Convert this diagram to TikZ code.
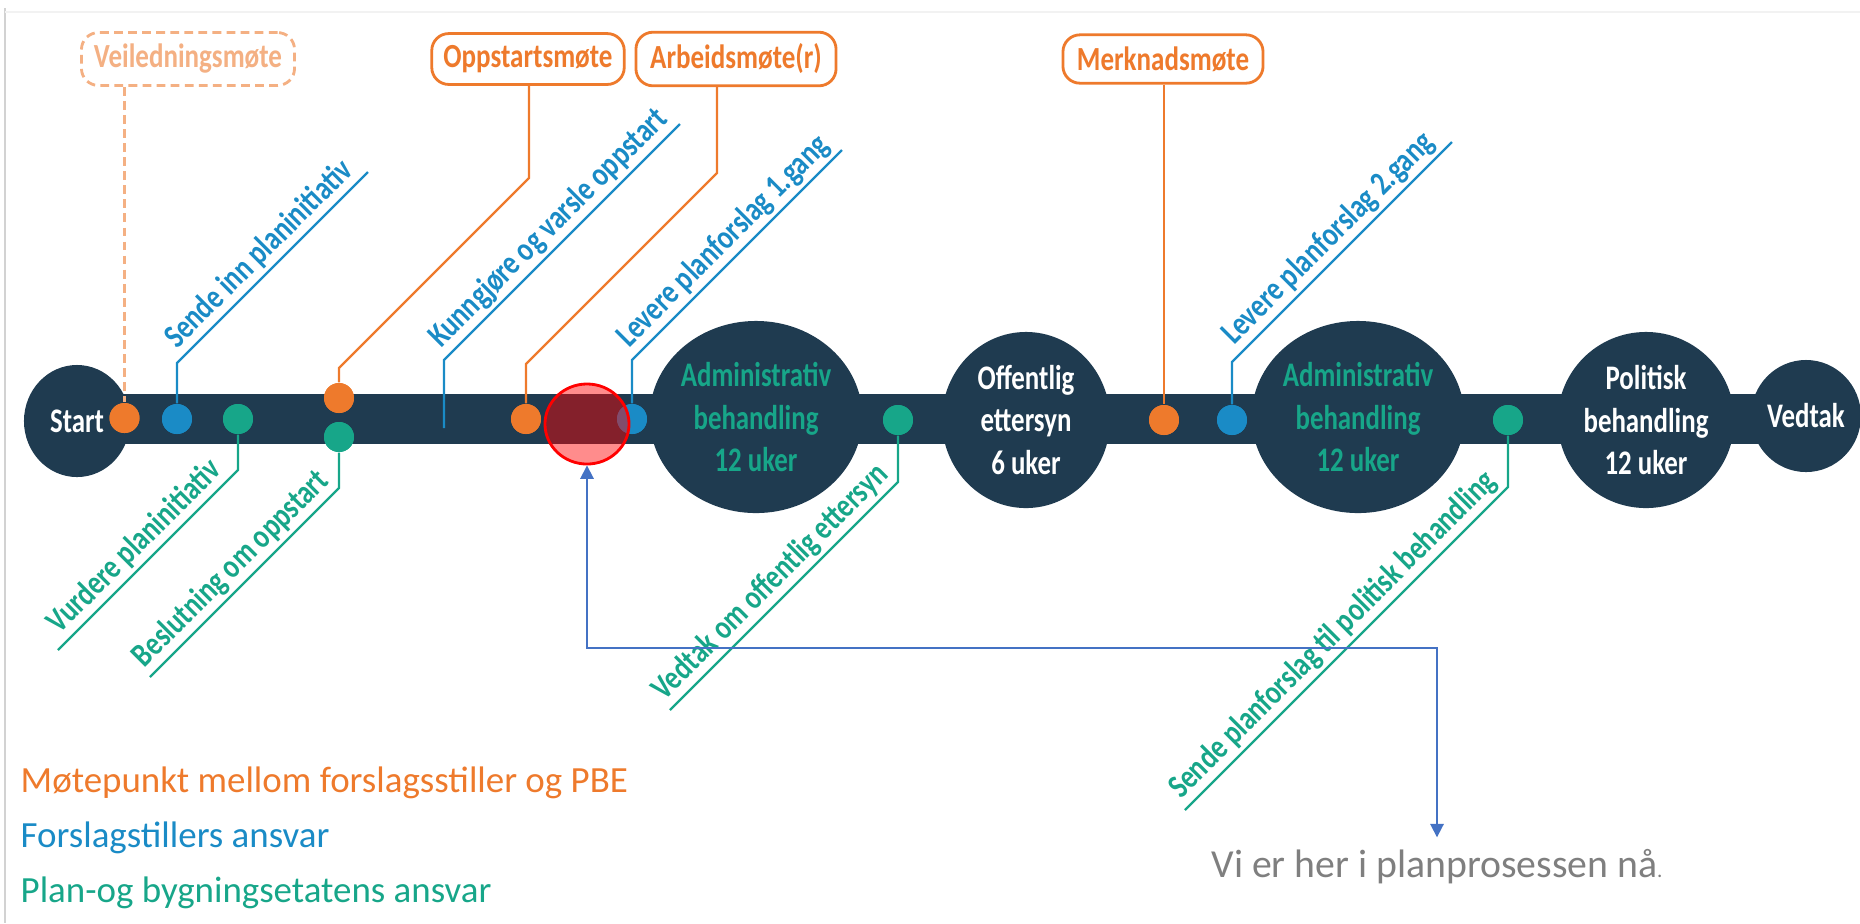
\documentclass[tikz,border=0pt]{standalone}
\usepackage{fontspec}
\setmainfont{Carlito}
\newfontfamily\slimfont[FakeStretch=0.8]{Carlito}
\newfontfamily\slimmerfont[FakeStretch=0.78]{Carlito}
\usepackage{tikz}
\usetikzlibrary{calc, shapes.geometric, arrows.meta}

\definecolor{navy}{HTML}{1F3B50}
\definecolor{pbeorange}{HTML}{EE7A2C}
\definecolor{pbeblue}{HTML}{1A8BC6}
\definecolor{pbegreen}{HTML}{17A689}
\definecolor{paleorange}{HTML}{F4B083}
\definecolor{markred}{HTML}{FF0000}
\definecolor{arrowblue}{HTML}{4472C4}
\definecolor{textgray}{HTML}{7F7F7F}

\tikzset{
	dot/.style={circle, minimum size=0.3cm, inner sep=0pt, fill=#1},
	phase/.style={ellipse, fill=navy, inner sep=0pt, align=center, font=\slimmerfont\bfseries\fontsize{9.8}{12.2}\selectfont},
	meeting/.style={draw=pbeorange, rounded corners=0.17cm, line width=0.8pt, fill=white, text=pbeorange, minimum height=0.45cm, font=\slimfont\bfseries\fontsize{9.6}{10}\selectfont},
	stepline/.style={line width=0.65pt, draw=#1},
	steptext/.style={sloped, above, inner sep=1pt, text=#1, font=\slimfont\bfseries\fontsize{9.6}{10}\selectfont},
	legendtext/.style={anchor=west, inner sep=0pt, font=\fontsize{10.5}{12}\selectfont}
}

\begin{document}
\begin{tikzpicture}[x=0.01cm, y=-0.01cm]
		\useasboundingbox (0,0) rectangle (1860,923);
		
		%frame of the screenshot
		\draw [gray!35, line width=0.8pt] (5,8) -- (5,923);
		\draw [gray!10, line width=0.6pt] (5,12) -- (1860,12);
		
		%the time line
		\fill [navy] (77,394) rectangle (1800,444);
		
		\node [phase, minimum width=1.06cm, minimum height=1.12cm, text=white] (start) at (77,421) {Start};
		\node [phase, minimum width=1.85cm, minimum height=1.92cm, text=pbegreen] (adm1) at (756,417) {Administrativ\\behandling\\12 uker};
		\node [phase, minimum width=1.68cm, minimum height=1.76cm, text=white] (off) at (1026,420) {Offentlig\\ettersyn\\6 uker};
		\node [phase, minimum width=1.81cm, minimum height=1.92cm, text=pbegreen] (adm2) at (1358,417) {Administrativ\\behandling\\12 uker};
		\node [phase, minimum width=1.68cm, minimum height=1.76cm, text=white] (pol) at (1646,420) {Politisk\\behandling\\12 uker};
		\node [phase, minimum width=1.04cm, minimum height=1.12cm, text=white] (vedtak) at (1806,416) {Vedtak};
		
		%meetings
		\node [meeting, draw=paleorange, text=paleorange, dash pattern=on 2.5pt off 1.5pt, minimum width=2.13cm] (veil) at (188,59) {Veiledningsmøte};
		\node [meeting, minimum width=1.9cm] (opp) at (528,59) {Oppstartsmøte};
		\node [meeting, minimum width=2cm] (arb) at (736,59) {Arbeidsmøte(r)};
		\node [meeting, minimum width=2cm] (merk) at (1163,59) {Merknadsmøte};
		
		%points on the line
		\node [dot=pbeorange] (o1) at (124.5,418) {};
		\node [dot=pbeblue] (b1) at (177,419) {};
		\node [dot=pbegreen] (g1) at (238,419) {};
		\node [dot=pbeorange] (o2) at (339,398) {};
		\node [dot=pbegreen] (g2) at (339,437) {};
		\node [dot=pbeorange] (o3) at (526,419) {};
		\node [dot=pbeblue] (b2) at (632,419) {};
		\node [dot=pbegreen] (g3) at (898,420) {};
		\node [dot=pbeorange] (o4) at (1164,420) {};
		\node [dot=pbeblue] (b3) at (1232,420) {};
		\node [dot=pbegreen] (g4) at (1508,420) {};
		
		%bends of the leader lines
		\coordinate (oppA) at (529,178);
		\coordinate (oppB) at (339,368);
		\coordinate (arbA) at (717,173);
		\coordinate (arbB) at (526,364);
		\coordinate (b1A) at (177,363);
		\coordinate (b1B) at (368,172);
		\coordinate (kunA) at (444,428);
		\coordinate (kunB) at (444,360);
		\coordinate (kunC) at (680,124);
		\coordinate (b2A) at (632,360);
		\coordinate (b2B) at (842,150);
		\coordinate (b3A) at (1232,362);
		\coordinate (b3B) at (1452,142);
		\coordinate (g1A) at (238,470);
		\coordinate (g1B) at (58,650);
		\coordinate (g2A) at (339,488);
		\coordinate (g2B) at (150,677);
		\coordinate (g3A) at (898,482);
		\coordinate (g3B) at (670,710);
		\coordinate (g4A) at (1508,487);
		\coordinate (g4B) at (1185,810);
		
		%orange leaders
		\draw [stepline=paleorange, dash pattern=on 2.5pt off 1.5pt] (veil.south -| o1) -- (o1);
		\draw [stepline=pbeorange] (opp.south -| oppA) -- (oppA) -- (oppB) -- (o2);
		\draw [stepline=pbeorange] (arb.south -| arbA) -- (arbA) -- (arbB) -- (o3);
		\draw [stepline=pbeorange] (merk.south -| o4) -- (o4);
		
		%blue leaders
		\draw [stepline=pbeblue] (b1) -- (b1A) -- (b1B);
			\path (b1A) -- node [steptext=pbeblue] {Sende inn planinitiativ} (b1B);
		\draw [stepline=pbeblue] (kunA) -- (kunB) -- (kunC);
			\path (kunB) -- node [steptext=pbeblue] {Kunngjøre og varsle oppstart} (kunC);
		\draw [stepline=pbeblue] (b2) -- (b2A) -- (b2B);
			\path (b2A) -- node [steptext=pbeblue] {Levere planforslag 1.gang} (b2B);
		\draw [stepline=pbeblue] (b3) -- (b3A) -- (b3B);
			\path (b3A) -- node [steptext=pbeblue] {Levere planforslag 2.gang} (b3B);
		
		%green leaders
		\draw [stepline=pbegreen] (g1) -- (g1A) -- (g1B);
			\path (g1B) -- node [steptext=pbegreen] {Vurdere planinitiativ} (g1A);
		\draw [stepline=pbegreen] (g2) -- (g2A) -- (g2B);
			\path (g2B) -- node [steptext=pbegreen] {Beslutning om oppstart} (g2A);
		\draw [stepline=pbegreen] (g3) -- (g3A) -- (g3B);
			\path (g3B) -- node [steptext=pbegreen] {Vedtak om offentlig ettersyn} (g3A);
		\draw [stepline=pbegreen] (g4) -- (g4A) -- (g4B);
			\path (g4B) -- node [steptext=pbegreen] {Sende planforslag til politisk behandling} (g4A);
		
		%redraw the dots over the leaders
		\foreach \d/\c in {o1/pbeorange, b1/pbeblue, g1/pbegreen, o2/pbeorange, g2/pbegreen, o3/pbeorange, b2/pbeblue, g3/pbegreen, o4/pbeorange, b3/pbeblue, g4/pbegreen}
			\fill [\c] (\d) circle (15);
		
		%where we are now
		\node [ellipse, draw=markred, line width=0.8pt, fill=markred, fill opacity=0.45, minimum width=0.84cm, minimum height=0.8cm] (mark) at (587,424) {};
		\node [text=textgray, font=\fontsize{11.3}{13}\selectfont] (here) at (1437,867) {Vi er her i planprosessen nå{\fontsize{6}{7}\selectfont.}};
		\coordinate (turn) at (1437,648);
		\draw [arrowblue, line width=0.5pt, {Triangle[length=3.8pt, width=3.8pt]}-{Triangle[length=3.8pt, width=3.8pt]}] (mark.south) |- (turn) -- (here.north);
		
		%legend
		\node [legendtext, text=pbeorange] (leg1) at (20,783) {Møtepunkt mellom forslagsstiller og PBE};
		\node [legendtext, text=pbeblue] (leg2) at (20,838) {Forslagstillers ansvar};
		\node [legendtext, text=pbegreen] (leg3) at (20,893) {Plan-og bygningsetatens ansvar};
\end{tikzpicture}
\end{document}
